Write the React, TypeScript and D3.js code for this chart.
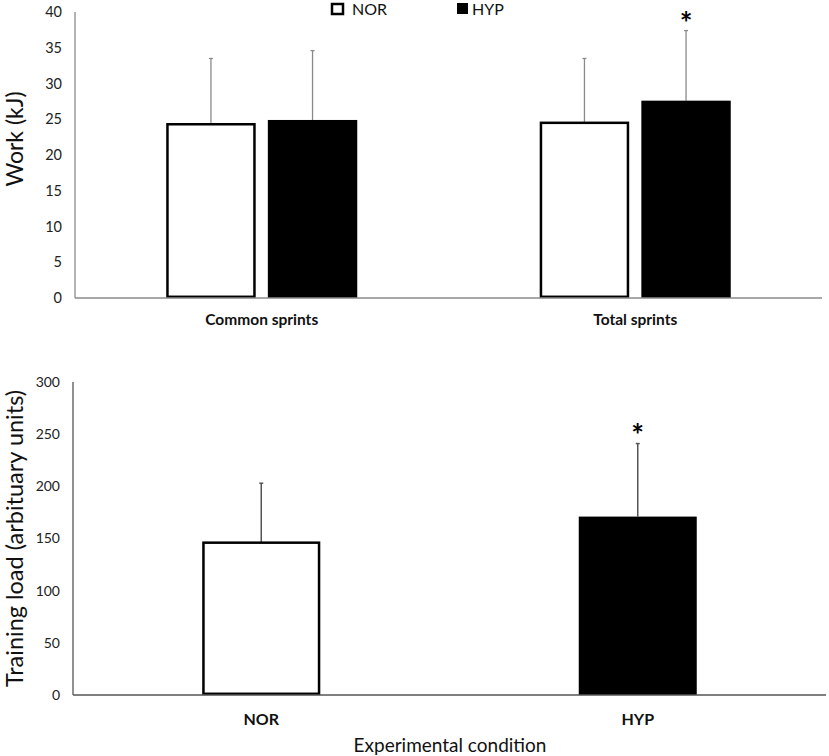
import React from 'react';
import * as d3 from 'd3';

// top panel: work per sprint set
const workCategories = ['Common sprints', 'Total sprints'];
const conditions = ['NOR', 'HYP'];
const workMean = [
  [24.3, 24.9],
  [24.5, 27.6],
];
const workSd = [
  [9.2, 9.7],
  [9.0, 9.8],
];
const workSignificant = [
  [false, false],
  [false, true],
];
const workTicks = [0, 5, 10, 15, 20, 25, 30, 35, 40];

// bottom panel: training load
const loadMean = [146, 171];
const loadSd = [57, 70];
const loadSignificant = [false, true];
const loadTicks = [0, 50, 100, 150, 200, 250, 300];

const FONT = 'Lato, "Open Sans", sans-serif';
const fills = ['#ffffff', '#000000'];

const App: React.FC = () => {
  const width = 829;
  const height = 756;

  // top scales
  const x1 = d3.scaleBand().domain(workCategories).range([75, 822]);
  const xInner = d3.scaleBand().domain(conditions).range([0, 191]).paddingInner(0.12);
  const y1 = d3.scaleLinear().domain([0, 40]).range([298, 12]);

  // bottom scales
  const x2 = d3.scaleBand().domain(conditions).range([73, 826]);
  const y2 = d3.scaleLinear().domain([0, 300]).range([695, 382]);
  const bar2 = 118;

  return (
    <svg
      width={width}
      height={height}
      style={{ position: 'absolute', left: 0, top: 0, display: 'block', background: '#fff' }}
    >
      {/* ---------- top chart ---------- */}
      <g fontFamily={FONT}>
        {workTicks.map(t => (
          <text key={t} x={62} y={y1(t)} dy="0.35em" textAnchor="end" fontSize={14.5} fill="#222">
            {t}
          </text>
        ))}
        <text
          transform={`translate(23,${(y1(0) + y1(40)) / 2 - 16}) rotate(-90)`}
          textAnchor="middle"
          fontSize={23}
          fill="#111"
        >
          Work (kJ)
        </text>

        {workCategories.map((cat, ci) => {
          const gx = x1(cat)! + x1.bandwidth() / 2 - 95.5;
          return (
            <g key={cat}>
              {conditions.map((cond, k) => {
                const bx = gx + xInner(cond)!;
                const bw = xInner.bandwidth();
                const v = workMean[ci][k];
                const top = y1(v + workSd[ci][k]);
                const cx = bx + bw / 2;
                return (
                  <g key={cond}>
                    <line x1={cx} x2={cx} y1={y1(v)} y2={top} stroke="#8a8a8a" strokeWidth={1.3} />
                    <line x1={cx - 2} x2={cx + 2} y1={top} y2={top} stroke="#8a8a8a" strokeWidth={1.3} />
                    {k === 0 ? (
                      <rect x={bx + 1.2} y={y1(v)} width={bw - 2.4} height={y1(0) - y1(v) - 1.2} fill={fills[k]} stroke="#000" strokeWidth={2.5} />
                    ) : (
                      <rect x={bx} y={y1(v)} width={bw} height={y1(0) - y1(v)} fill={fills[k]} />
                    )}
                    {workSignificant[ci][k] && (
                      <text x={cx} y={top + 3} textAnchor="middle" fontSize={30} fontWeight="bold" fill="#000">
                        *
                      </text>
                    )}
                  </g>
                );
              })}
              <text x={x1(cat)! + x1.bandwidth() / 2} y={325} textAnchor="middle" fontSize={15.5} fontWeight="bold" fill="#111">
                {cat}
              </text>
            </g>
          );
        })}

        <line x1={75} x2={75} y1={12} y2={298} stroke="#8a8a8a" strokeWidth={1.3} />
        <line x1={75} x2={822} y1={298} y2={298} stroke="#8a8a8a" strokeWidth={1.3} />

        {/* legend */}
        <rect x={332} y={4} width={11} height={10} fill="#fff" stroke="#000" strokeWidth={2.5} />
        <text x={352} y={15} fontSize={16} fill="#111">NOR</text>
        <rect x={457} y={3} width={11} height={11} fill="#000" />
        <text x={472} y={15} fontSize={16} fill="#111">HYP</text>
      </g>

      {/* ---------- bottom chart ---------- */}
      <g fontFamily={FONT}>
        {loadTicks.map(t => (
          <text key={t} x={60} y={y2(t)} dy="0.35em" textAnchor="end" fontSize={14} fill="#222">
            {t}
          </text>
        ))}
        <text
          transform={`translate(23,${(y2(0) + y2(300)) / 2}) rotate(-90)`}
          textAnchor="middle"
          fontSize={23.5}
          fill="#111"
        >
          Training load (arbituary units)
        </text>

        {conditions.map((cond, k) => {
          const cx = x2(cond)! + x2.bandwidth() / 2;
          const bx = cx - bar2 / 2;
          const v = loadMean[k];
          const top = y2(v + loadSd[k]);
          return (
            <g key={cond}>
              <line x1={cx} x2={cx} y1={y2(v)} y2={top} stroke="#555" strokeWidth={1.5} />
              <line x1={cx - 2} x2={cx + 2} y1={top} y2={top} stroke="#555" strokeWidth={1.5} />
              {k === 0 ? (
                <rect x={bx + 1.2} y={y2(v)} width={bar2 - 2.4} height={y2(0) - y2(v) - 1.2} fill={fills[k]} stroke="#000" strokeWidth={2.5} />
              ) : (
                <rect x={bx} y={y2(v)} width={bar2} height={y2(0) - y2(v)} fill={fills[k]} />
              )}
              {loadSignificant[k] && (
                <text x={cx} y={top + 2} textAnchor="middle" fontSize={30} fontWeight="bold" fill="#000">
                  *
                </text>
              )}
              <text x={cx} y={719} dy="0.35em" textAnchor="middle" fontSize={16} fontWeight="bold" fill="#111">
                {cond}
              </text>
            </g>
          );
        })}

        <line x1={73} x2={73} y1={382} y2={695} stroke="#555" strokeWidth={1.3} />
        <line x1={73} x2={826} y1={695} y2={695} stroke="#555" strokeWidth={1.3} />

        <text x={450} y={745} dy="0.35em" textAnchor="middle" fontSize={19} fill="#111">
          Experimental condition
        </text>
      </g>
    </svg>
  );
};

export default App;
